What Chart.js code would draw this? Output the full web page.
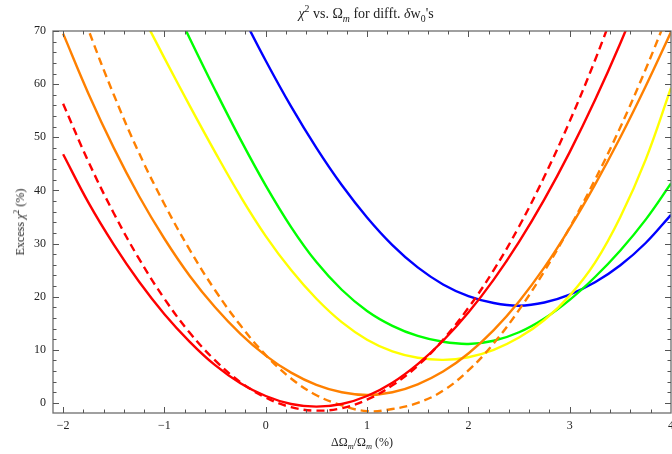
<!DOCTYPE html>
<html>
<head>
<meta charset="utf-8">
<script src="https://cdn.jsdelivr.net/npm/chart.js@4/dist/chart.umd.min.js"></script>
<style>
  html, body { margin:0; padding:0; background:#fff; }
  #wrap { position:relative; width:672px; height:454px; overflow:hidden; }
  #c { position:absolute; left:0; top:0; }
  .lbl { position:absolute; font-family:"Liberation Serif","DejaVu Serif",serif; color:#222; white-space:nowrap; }
  .lbl sup, .lbl sub { font-size:70%; line-height:0; }
  #title { left:53px; width:626px; top:5px; text-align:center; font-size:14px; line-height:18px; }
  #xtitle { left:53px; width:618px; top:434px; text-align:center; font-size:12px; line-height:16px; }
  #ytitle { left:20px; top:222px; font-size:12px; line-height:16px; transform:translate(-50%,-50%) rotate(-90deg); }
</style>
</head>
<body>
<div id="wrap">
  <canvas id="c" width="672" height="454"></canvas>
  <div class="lbl" id="title"><i>χ</i><sup>2</sup> vs. Ω<sub><i>m</i></sub> for difft. <i>δ</i>w<sub>0</sub>'s</div>
  <div class="lbl" id="xtitle">ΔΩ<sub><i>m</i></sub>/Ω<sub><i>m</i></sub> (%)</div>
  <div class="lbl" id="ytitle">Excess <i>χ</i><sup>2</sup> (%)</div>
</div>
<script>
// ---- data ----
const xValues = [-2,-1.75,-1.5,-1.25,-1,-0.75,-0.5,-0.25,0,0.25,0.5,0.75,1,1.25,1.5,1.75,2,2.25,2.5,2.75,3,3.25,3.5,3.75,4];

const redSolid    = [46.8,37.7,29.8,22.8,16.7,11.5,7.1,3.7,1.3,-0.2,-0.7,-0.2,1.3,3.8,7.3,11.7,17.0,23.2,30.3,38.3,47.2,57.0,67.7,79.3,null];
const redDashed   = [56.3,45.4,35.7,27.1,19.6,13.2,8.0,3.9,1.0,-0.8,-1.45,-1.0,0.6,3.3,7.0,11.9,17.9,25.0,33.2,42.6,53.0,64.5,77.1,null,null];
const orangeSolid = [69.5,58.2,48.0,38.9,30.9,23.9,18.0,13.0,8.9,5.7,3.4,2.0,1.5,2.0,3.5,5.9,9.3,13.7,19.1,25.5,32.9,41.1,50.0,59.6,69.8];
const orangeDashed= [83.4,70.2,58.0,47.0,37.4,28.8,21.2,14.6,9.0,4.6,1.45,-0.45,-1.55,-1.15,0.0,2.3,6.1,11.2,17.5,24.8,33.0,42.0,51.9,62.8,74.6];
const yellowSolid = [null,null,null,74.1,64.9,55.9,47.2,38.9,31.4,25.0,19.6,15.2,11.9,9.7,8.5,8.1,8.6,10.0,12.3,15.6,20.2,26.4,35.0,45.8,59.3];
const greenSolid  = [null,null,null,null,78.6,68.6,58.9,49.6,40.9,33.1,26.5,21.3,17.3,14.5,12.6,11.5,11.1,11.7,13.3,15.9,19.4,23.7,28.7,34.5,41.3];
const blueSolid   = [null,null,null,null,null,null,null,73.6,64.4,55.8,48.0,41.0,34.9,29.7,25.5,22.3,20.1,18.8,18.3,18.9,20.4,22.7,25.9,30.1,35.4];

const xTickValues = [-2,-1,0,1,2,3,4];
const yTickValues = [0,10,20,30,40,50,60,70];

function pts(arr){ return xValues.map((x,i)=>({x:x, y:arr[i]})); }
function ds(arr, color, dashed){
  return { data: pts(arr), borderColor: color, backgroundColor: color, borderWidth: 2.4,
           borderDash: dashed ? [8,5] : [], pointRadius: 0, tension: 0.4, fill: false,
           spanGaps: false, clip: 0 };
}
function fmt(v){ return v < 0 ? '\u2212' + Math.abs(v) : String(v); }

const framePlugin = {
  id: 'frame',
  afterDatasetsDraw(chart){
    const {ctx, chartArea:a, scales} = chart;
    const xs = scales.x, ys = scales.y;
    ctx.save();
    ctx.strokeStyle = '#6e6e6e';
    ctx.lineWidth = 1.3;
    ctx.strokeRect(a.left, a.top, a.right - a.left, a.bottom - a.top);
    ctx.lineWidth = 1;
    ctx.strokeStyle = '#555';
    ctx.beginPath();
    for (let i = -10; i <= 20; i++) {
      const v = i / 5;
      const p = Math.round(xs.getPixelForValue(v)) + 0.5;
      if (p < a.left || p > a.right) continue;
      const len = (i % 5 === 0) ? 6 : 3.5;
      ctx.moveTo(p, a.bottom); ctx.lineTo(p, a.bottom - len);
      ctx.moveTo(p, a.top); ctx.lineTo(p, a.top + len);
    }
    for (let i = 0; i <= 35; i++) {
      const v = i * 2;
      const p = Math.round(ys.getPixelForValue(v)) + 0.5;
      if (p < a.top - 1 || p > a.bottom) continue;
      const len = (i % 5 === 0) ? 6 : 3.5;
      ctx.moveTo(a.left, p); ctx.lineTo(a.left + len, p);
      ctx.moveTo(a.right, p); ctx.lineTo(a.right - len, p);
    }
    ctx.stroke();
    ctx.restore();
  }
};

new Chart(document.getElementById('c'), {
  type: 'line',
  data: {
    datasets: [
      ds(redSolid, '#ff0000', false),
      ds(redDashed, '#ff0000', true),
      ds(orangeSolid, '#ff8000', false),
      ds(orangeDashed, '#ff8000', true),
      ds(yellowSolid, '#ffff00', false),
      ds(greenSolid, '#00ff00', false),
      ds(blueSolid, '#0000ff', false)
    ]
  },
  options: {
    responsive: false,
    animation: false,
    layout: { padding: { left: 0, right: 1, top: 31, bottom: 0 } },
    plugins: { legend: { display: false }, tooltip: { enabled: false }, title: { display: false } },
    scales: {
      x: {
        type: 'linear', min: -2.1, max: 4.0,
        grid: { display: false, drawTicks: false },
        border: { display: false },
        afterBuildTicks: s => { s.ticks = xTickValues.map(v => ({value: v})); },
        afterFit: s => { s.height = 41; s.paddingLeft = 0; s.paddingRight = 0; },
        ticks: { padding: 6, maxRotation: 0, autoSkip: false, color: '#222',
                 font: { family: 'Liberation Serif', size: 12 }, callback: v => fmt(v) }
      },
      y: {
        type: 'linear', min: -1.9, max: 70,
        grid: { display: false, drawTicks: false },
        border: { display: false },
        afterBuildTicks: s => { s.ticks = yTickValues.map(v => ({value: v})); },
        afterFit: s => { s.width = 53; s.paddingTop = 0; s.paddingBottom = 0; },
        ticks: { padding: 7, autoSkip: false, color: '#222',
                 font: { family: 'Liberation Serif', size: 12 }, callback: v => fmt(v) }
      }
    }
  },
  plugins: [framePlugin]
});
</script>
</body>
</html>
